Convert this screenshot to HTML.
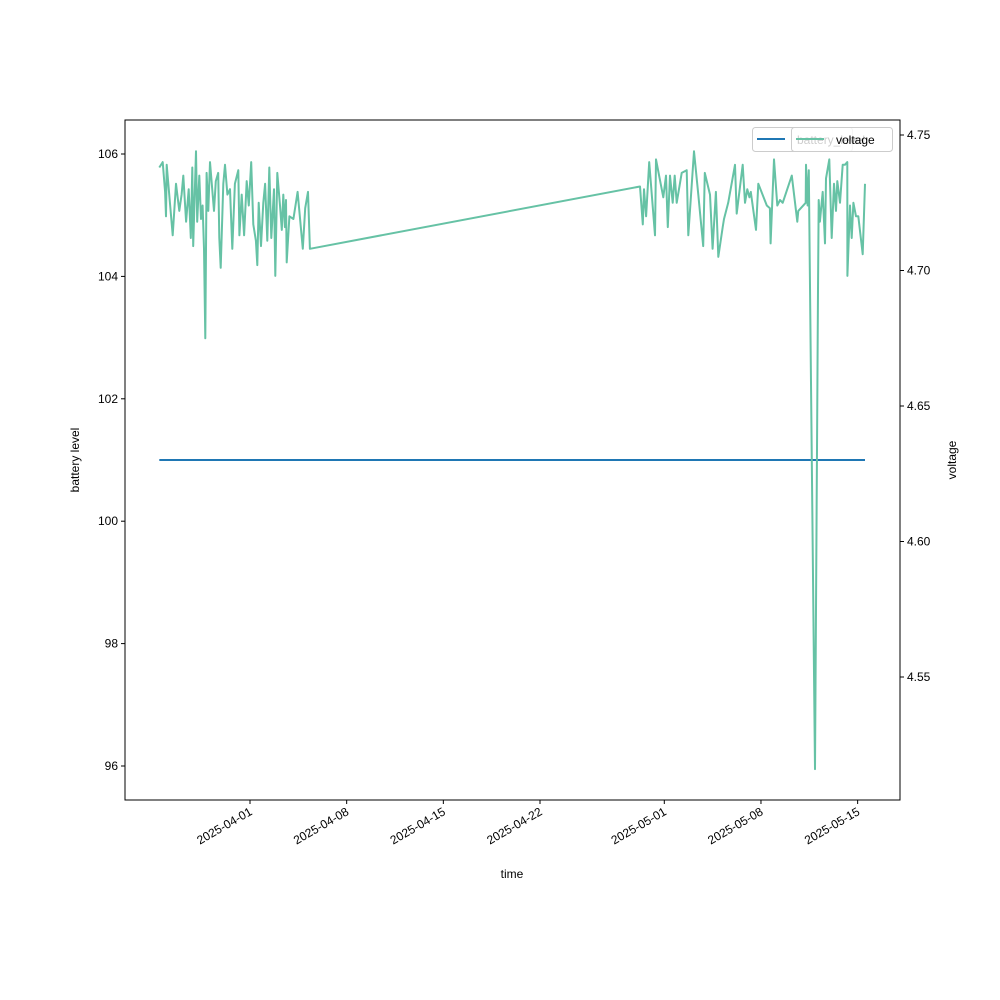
<!DOCTYPE html>
<html><head><meta charset="utf-8"><style>
html,body{margin:0;padding:0;background:#fff;}
svg{display:block;font-family:"Liberation Sans","DejaVu Sans",sans-serif;}
</style></head><body>
<svg id="chart" width="1000" height="1000" viewBox="0 0 1000 1000"></svg>
<script>
const days = [-6.57,-6.32,-6.15,-6.08,-6.03,-5.60,-5.36,-5.12,-4.95,-4.83,-4.63,-4.44,-4.29,-4.18,-4.11,-3.91,-3.82,-3.67,-3.55,-3.43,-3.33,-3.24,-3.14,-3.02,-2.90,-2.75,-2.61,-2.48,-2.30,-2.22,-2.12,-1.93,-1.81,-1.64,-1.45,-1.28,-1.09,-0.85,-0.77,-0.60,-0.43,-0.24,-0.09,0.09,0.24,0.43,0.53,0.63,0.80,0.96,1.09,1.25,1.40,1.54,1.74,1.83,1.98,2.17,2.30,2.41,2.53,2.61,2.66,2.85,3.14,3.45,3.82,4.00,4.20,4.34,
28.24,28.44,28.53,28.68,28.91,29.33,29.40,29.93,30.12,30.25,30.41,30.61,30.75,30.90,31.26,31.62,31.74,32.15,32.46,32.82,32.93,33.31,33.50,33.74,33.91,34.23,34.32,34.63,35.12,35.24,35.68,35.84,36.01,36.16,36.26,36.64,36.81,37.42,37.65,37.70,37.94,38.18,38.38,38.57,39.23,39.63,39.70,40.24,40.26,40.38,40.46,40.91,41.13,41.18,41.27,41.47,41.64,41.71,41.95,42.12,42.29,42.43,42.53,42.72,42.92,43.08,43.25,43.26,43.45,43.57,43.69,43.88,44.05,44.37,44.53];
const voltage = [4.738,4.740,4.729,4.720,4.739,4.713,4.732,4.722,4.728,4.735,4.718,4.730,4.712,4.738,4.709,4.744,4.718,4.735,4.719,4.724,4.708,4.675,4.736,4.722,4.740,4.731,4.722,4.733,4.736,4.712,4.701,4.732,4.739,4.728,4.730,4.708,4.732,4.737,4.713,4.728,4.713,4.733,4.724,4.740,4.717,4.711,4.702,4.725,4.709,4.725,4.732,4.711,4.738,4.712,4.730,4.698,4.736,4.724,4.715,4.728,4.716,4.726,4.703,4.720,4.719,4.729,4.708,4.723,4.729,4.708,
4.731,4.717,4.730,4.720,4.740,4.713,4.741,4.727,4.735,4.716,4.735,4.725,4.735,4.725,4.736,4.737,4.713,4.744,4.728,4.709,4.736,4.728,4.708,4.729,4.705,4.716,4.719,4.725,4.739,4.721,4.739,4.725,4.730,4.727,4.729,4.715,4.732,4.724,4.723,4.710,4.741,4.724,4.726,4.725,4.735,4.718,4.722,4.725,4.739,4.724,4.737,4.516,4.693,4.726,4.718,4.729,4.710,4.734,4.741,4.712,4.732,4.722,4.733,4.725,4.739,4.739,4.740,4.698,4.724,4.712,4.725,4.720,4.720,4.706,4.732];
const battery = days.map(() => 101);
const leftTicks = [96,98,100,102,104,106];
const rightTicks = [4.55,4.60,4.65,4.70,4.75];
const xTickDays = [0,7,14,21,30,37,44];
const xTickLabels = ["2025-04-01","2025-04-08","2025-04-15","2025-04-22","2025-05-01","2025-05-08","2025-05-15"];

const L=125,R=900,T=120,B=800;
const xs = d => 250 + d*13.81;
const yl = v => 154 + (106 - v)*61.2;
const yr = v => 135 + (4.75 - v)*2710;
const svg = document.getElementById('chart');
const NS='http://www.w3.org/2000/svg';
function mk(tag, attrs, parent){const e=document.createElementNS(NS,tag);for(const k in attrs)e.setAttribute(k,attrs[k]);(parent||svg).appendChild(e);return e;}

// battery line
let bp = mk('path',{d:'M'+days.map((d,i)=>xs(d).toFixed(1)+','+yl(battery[i]).toFixed(1)).join('L'),fill:'none',stroke:'#1f77b4','stroke-width':2});


let vp = mk('path',{d:'M'+days.map((d,i)=>xs(d).toFixed(1)+','+yr(voltage[i]).toFixed(1)).join('L'),fill:'none',stroke:'#66c2a5','stroke-width':2,'stroke-linejoin':'round'});



// frame
let fr = mk('rect',{x:L,y:T,width:R-L,height:B-T,fill:'none',stroke:'#000','stroke-width':1});



leftTicks.forEach(v=>{const y=yl(v);
 mk('line',{x1:L-4,x2:L,y1:y,y2:y,stroke:'#000'});
 const t=mk('text',{x:L-7,y:y+4,'text-anchor':'end','font-size':12});t.textContent=v;
 
 });
rightTicks.forEach(v=>{const y=yr(v);
 mk('line',{x1:R,x2:R+4,y1:y,y2:y,stroke:'#000'});
 const t=mk('text',{x:R+7,y:y+4,'font-size':12});t.textContent=v.toFixed(2);
 
 });
xTickDays.forEach((d,i)=>{const x=xs(d);
 mk('line',{x1:x,x2:x,y1:B,y2:B+4,stroke:'#000'});
 const t=mk('text',{x:x+3,y:B+14,'text-anchor':'end','font-size':12,transform:`rotate(-30 ${x+3} ${B+14})`});t.textContent=xTickLabels[i];
 
 });

let xt=mk('text',{x:512,y:878,'text-anchor':'middle','font-size':12});xt.textContent='time';


let ylt=mk('text',{x:79,y:460,'text-anchor':'middle','font-size':12,transform:'rotate(-90 79 460)'});ylt.textContent='battery level';


let yrt=mk('text',{x:956,y:460,'text-anchor':'middle','font-size':12,transform:'rotate(-90 956 460)'});yrt.textContent='voltage';



// legend 1 (battery)
let lg1=mk('g',{});


mk('rect',{x:752.5,y:127.5,width:100,height:24,rx:3,fill:'#fff','fill-opacity':0.8,stroke:'#ccc'},lg1);
mk('line',{x1:757,x2:785,y1:139,y2:139,stroke:'#1f77b4','stroke-width':2},lg1);
let l1t=mk('text',{x:797,y:144,'font-size':12},lg1);l1t.textContent='battery_level';
// legend 2 (voltage)
let lg2=mk('g',{});


mk('rect',{x:791.5,y:127.5,width:101,height:24,rx:3,fill:'#fff','fill-opacity':0.8,stroke:'#ccc'},lg2);
mk('line',{x1:796,x2:824,y1:139,y2:139,stroke:'#66c2a5','stroke-width':2},lg2);
let l2t=mk('text',{x:836,y:144,'font-size':12},lg2);l2t.textContent='voltage';
</script>
</body></html>
